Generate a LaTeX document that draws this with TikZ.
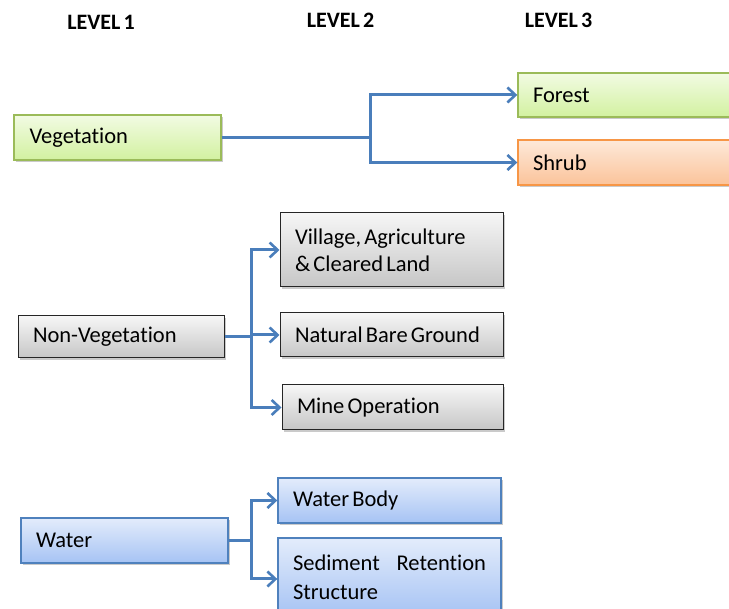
\documentclass[tikz,border=0pt]{standalone}
\usepackage{fontspec}
\setmainfont{Carlito}[WordSpace=0.62, Ligatures=NoCommon]
\usetikzlibrary{arrows.meta,shadows}
\definecolor{gtop}{HTML}{F2FBE3}\definecolor{gbot}{HTML}{D2F1A0}\definecolor{gbrd}{HTML}{9BBB59}
\definecolor{otop}{HTML}{FDE9D9}\definecolor{obot}{HTML}{FBC39A}\definecolor{obrd}{HTML}{F79646}
\definecolor{ktop}{HTML}{F6F6F6}\definecolor{kbot}{HTML}{C6C6C6}\definecolor{kbrd}{HTML}{262626}
\definecolor{btop}{HTML}{E3ECFB}\definecolor{bbot}{HTML}{A6C3F4}\definecolor{bbrd}{HTML}{4F81BD}
\definecolor{arr}{HTML}{4A7EBB}
\tikzset{
  box/.style={draw, line width=1.4pt, inner xsep=15pt, inner ysep=0pt, align=left,
    font=\fontsize{22.5}{27}\selectfont, anchor=center,
    execute at begin node={\spaceskip=0pt\xspaceskip=0pt\relax},
    drop shadow={shadow xshift=2pt, shadow yshift=-2.5pt, opacity=0.35, fill=black!60}},
  greenbox/.style={box, draw=gbrd, top color=gtop, bottom color=gbot},
  orangebox/.style={box, draw=obrd, top color=otop, bottom color=obot},
  graybox/.style={box, draw=kbrd, line width=1pt, top color=ktop, bottom color=kbot},
  bluebox/.style={box, draw=bbrd, top color=btop, bottom color=bbot},
  level/.style={font=\fontsize{22}{24}\selectfont\bfseries},
  link/.style={draw=arr, line width=3pt},
  arrowlink/.style={link, -{Straight Barb[length=8pt,width=15pt,line width=2.6pt]}},
}
\begin{document}
\begin{tikzpicture}[x=1pt,y=-1pt]
\clip (0,0) rectangle (729,609);
\useasboundingbox (0,0) rectangle (729,609);
% level headings
\node[level] (l1) at (101,22.5) {LEVEL 1};
\node[level] (l2) at (340.5,20.5) {LEVEL 2};
\node[level] (l3) at (558.5,20.5) {LEVEL 3};
% level 1
\node[greenbox, minimum width=207pt, minimum height=45pt, text width=176pt] (veg) at (117.5,137.5) {Vegetation};
\node[graybox, minimum width=206pt, minimum height=42pt, text width=176pt] (nonveg) at (121,337) {Non-Vegetation};
\node[bluebox, minimum width=207pt, minimum height=45pt, text width=177pt] (water) at (124.5,540.5) {Water};
% level 3
\node[greenbox, minimum width=222pt, minimum height=44pt, text width=192pt] (forest) at (629,95) {Forest};
\node[orangebox, minimum width=222pt, minimum height=45pt, text width=192pt] (shrub) at (629,162.5) {Shrub};
% level 2
\node[graybox, minimum width=223pt, minimum height=74pt, text width=193pt] (village) at (391.5,250) {Village, Agriculture\\\& Cleared Land};
\node[graybox, minimum width=223pt, minimum height=44pt, text width=193pt] (bare) at (391.5,335) {\mbox{Natural Bare Ground}};
\node[graybox, minimum width=221pt, minimum height=45pt, text width=191pt] (mine) at (392.5,407.5) {Mine Operation};
\node[bluebox, minimum width=223pt, minimum height=45pt, text width=193pt] (wbody) at (389.5,500.5) {Water Body};
\node[bluebox, minimum width=223pt, minimum height=78pt, text width=193pt, font=\fontsize{22.5}{29}\selectfont] (sed) at (389.5,577) {Sediment\hfill Retention\\Structure};
% junctions
\coordinate (j1) at (370,137.5);
\coordinate (j2) at (251,337);
\coordinate (j3) at (251,540.5);
% connectors
\draw[link] (veg.east) -- (j1);
\draw[arrowlink] (j1) |- (forest.west);
\draw[arrowlink] (j1) |- (shrub.west);
\draw[link] (nonveg.east) -- (j2);
\draw[arrowlink] (j2) |- (village.west);
\draw[arrowlink] (j2) |- (bare.west);
\draw[arrowlink] (j2) |- (mine.west);
\draw[link] (water.east) -- (j3);
\draw[arrowlink] (j3) |- (wbody.west);
\draw[arrowlink] (j3) |- ([yshift=-2pt]sed.west);
\end{tikzpicture}
\end{document}
